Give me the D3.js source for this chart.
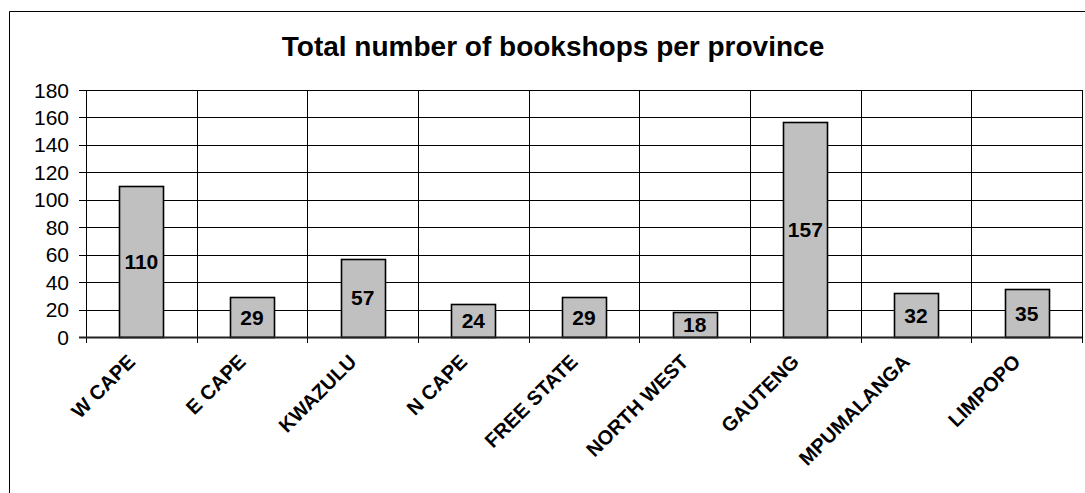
<!DOCTYPE html>
<html>
<head>
<meta charset="utf-8">
<script src="https://cdn.jsdelivr.net/npm/d3@7/dist/d3.min.js"></script>
<style>
  html, body { margin: 0; padding: 0; background: #fff; }
  svg { display: block; font-family: "Liberation Sans", Arial, sans-serif; }
</style>
</head>
<body>
<svg id="chart" width="1085" height="493"></svg>
<script>
// Bookshops per province
const provinces = ["W CAPE", "E CAPE", "KWAZULU", "N CAPE", "FREE STATE", "NORTH WEST", "GAUTENG", "MPUMALANGA", "LIMPOPO"];
const bookshops = [110, 29, 57, 24, 29, 18, 157, 32, 35];
const yTicks = [0, 20, 40, 60, 80, 100, 120, 140, 160, 180];
const chartTitle = "Total number of bookshops per province";

const svg = d3.select("#chart");
const W = 1085, H = 493;
const plot = { left: 86, right: 1082, top: 90, bottom: 337 };

// outer chart frame (open on the right and bottom edges of the page)
svg.append("path")
  .attr("d", `M9.5,${H}V11.5H${W}`)
  .attr("fill", "none")
  .attr("stroke", "#000")
  .attr("stroke-width", 1);

svg.append("text")
  .attr("x", 553)
  .attr("y", 56)
  .attr("text-anchor", "middle")
  .attr("font-size", 28)
  .attr("font-weight", "bold")
  .attr("fill", "#000")
  .text(chartTitle);

const x = d3.scaleBand().domain(provinces).range([plot.left, plot.right]).padding(0);
const y = d3.scaleLinear().domain([0, 180]).range([plot.bottom, plot.top]);

const g = svg.append("g");

// horizontal gridlines
g.selectAll("line.hgrid").data(yTicks.filter(d => d > 0)).join("line")
  .attr("class", "hgrid")
  .attr("x1", plot.left - 7).attr("x2", plot.right)
  .attr("y1", d => Math.round(y(d)) + 0.5).attr("y2", d => Math.round(y(d)) + 0.5)
  .attr("stroke", "#000").attr("stroke-width", 1);

// vertical gridlines at category boundaries, with ticks below the axis
const bounds = provinces.map(p => x(p)).concat([x(provinces[provinces.length - 1]) + x.bandwidth()]);
g.selectAll("line.vgrid").data(bounds).join("line")
  .attr("class", "vgrid")
  .attr("x1", d => Math.round(d) + 0.5).attr("x2", d => Math.round(d) + 0.5)
  .attr("y1", plot.top).attr("y2", plot.bottom + 6)
  .attr("stroke", "#000").attr("stroke-width", 1);

// y-axis labels
g.selectAll("text.ylab").data(yTicks).join("text")
  .attr("class", "ylab")
  .attr("x", 69)
  .attr("y", d => y(d))
  .attr("dy", "0.36em")
  .attr("text-anchor", "end")
  .attr("font-size", 21)
  .attr("fill", "#000")
  .text(d => d);

// bars
const barW = x.bandwidth() * 0.4;
const cx = p => x(p) + x.bandwidth() / 2;
g.selectAll("rect.bar").data(provinces).join("rect")
  .attr("class", "bar")
  .attr("x", (p) => Math.round(cx(p) - barW / 2) + 0.5)
  .attr("y", (p, i) => Math.round(y(bookshops[i])) + 0.5)
  .attr("width", Math.round(barW))
  .attr("height", (p, i) => Math.round(y(0)) - Math.round(y(bookshops[i])))
  .attr("fill", "#c0c0c0")
  .attr("stroke", "#000")
  .attr("stroke-width", 1.6);

// zero axis line
g.append("line")
  .attr("x1", plot.left - 7).attr("x2", plot.right)
  .attr("y1", Math.round(y(0)) + 0.5).attr("y2", Math.round(y(0)) + 0.5)
  .attr("stroke", "#222").attr("stroke-width", 2);

// value labels centred in each bar
g.selectAll("text.val").data(provinces).join("text")
  .attr("class", "val")
  .attr("x", p => cx(p))
  .attr("y", (p, i) => (y(bookshops[i]) + y(0)) / 2)
  .attr("dy", "0.36em")
  .attr("text-anchor", "middle")
  .attr("font-size", 21)
  .attr("font-weight", "bold")
  .attr("fill", "#000")
  .text((p, i) => bookshops[i]);

// rotated category labels, text ending just under each category centre
g.selectAll("text.xlab").data(provinces).join("text")
  .attr("class", "xlab")
  .attr("transform", p => `translate(${cx(p) - 5},363) rotate(-45)`)
  .attr("text-anchor", "end")
  .attr("font-size", 20)
  .attr("font-weight", "bold")
  .attr("fill", "#000")
  .text(p => p);
</script>
</body>
</html>
